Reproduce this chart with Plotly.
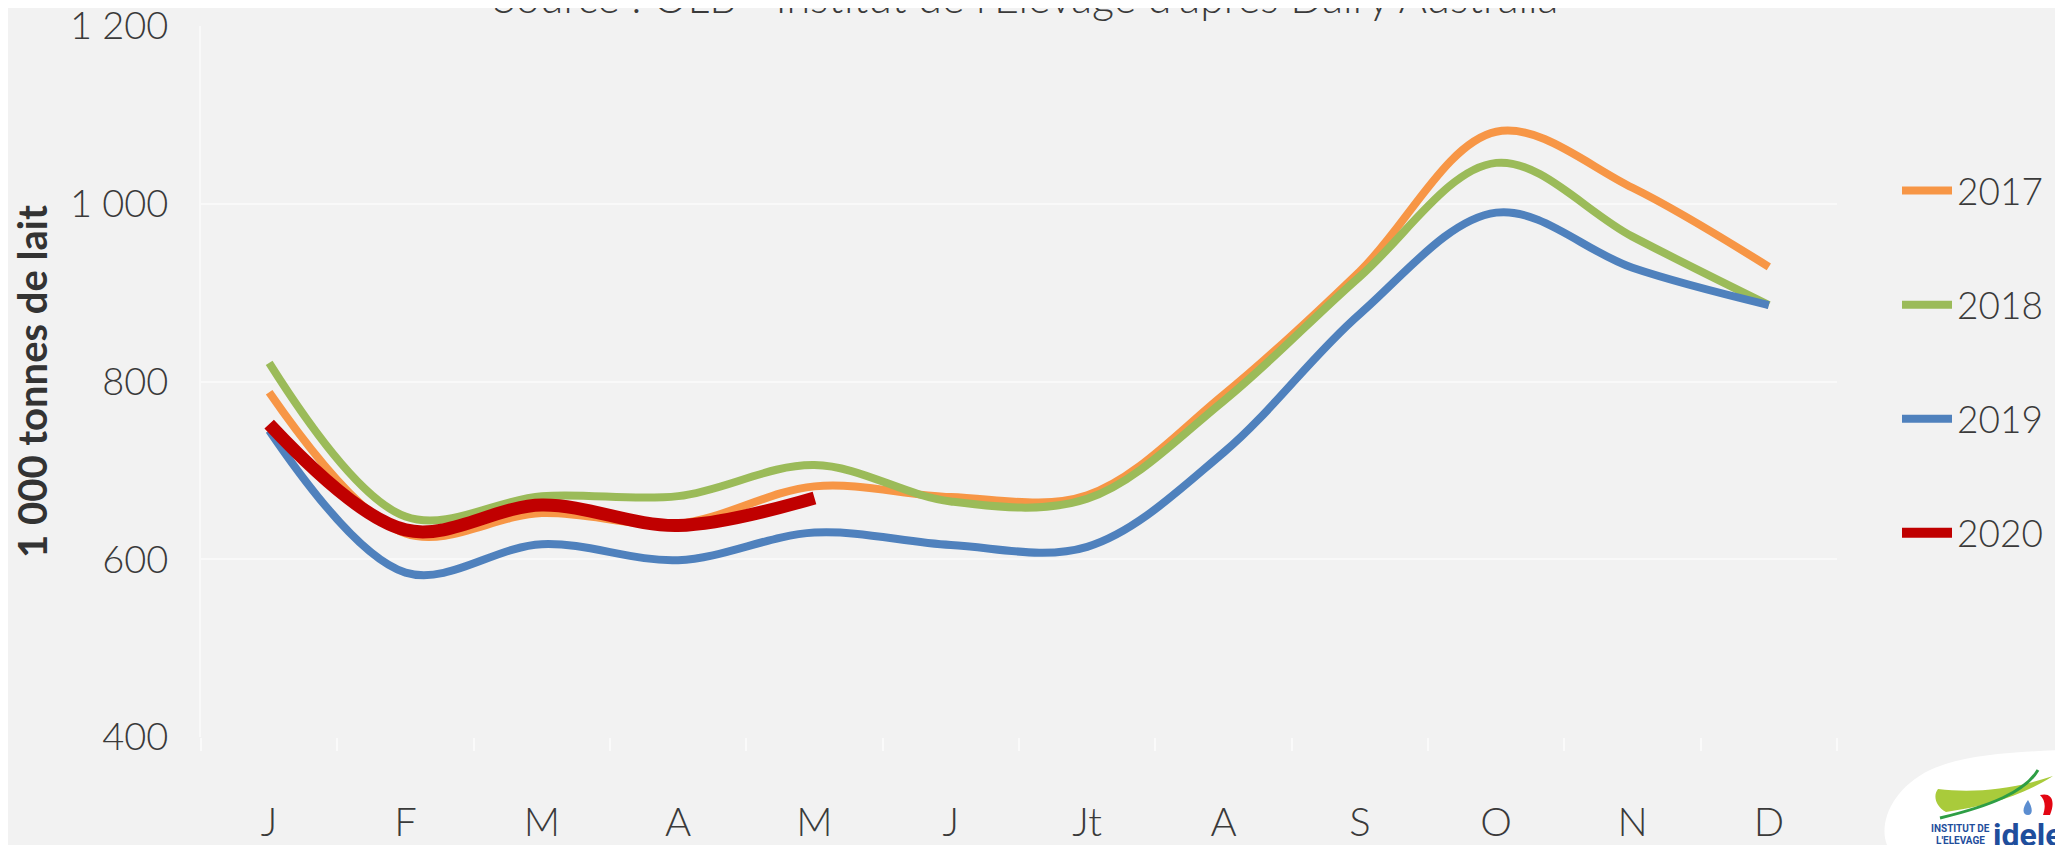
import plotly.graph_objects as go

# ---------------- data ----------------
months = ["J", "F", "M", "A", "M", "J", "Jt", "A", "S", "O", "N", "D"]
years = ["2017", "2018", "2019", "2020"]
v2017 = [788, 629, 652, 640, 682, 670, 672, 785, 924, 1081, 1018, 929]
v2018 = [821, 648, 671, 671, 706, 665, 668, 778, 918, 1046, 963, 886]
v2019 = [745, 585, 617, 599, 630, 616, 614, 720, 876, 990, 928, 886]
v2020 = [752, 633, 661, 638, 669]
yticks = [400, 600, 800, 1000, 1200]

series = [v2017, v2018, v2019, v2020]
colors = ["#F79646", "#9BBB59", "#4F81BD", "#C00000"]
widths = [8, 8, 8, 13]

# ---------------- layout geometry (screen pixels) ----------------
OFF = 8                      # default page body margin
SW, SH = 2063, 845           # screen size
W, H = SW - OFF, SH - OFF    # figure size
L, R, T, B = 201, 1837, 26, 737   # plot area in screen pixels
PW, PH = R - L, B - T


def px(xp):
    return (xp - L) / PW


def py(yp):
    return (B - yp) / PH


FONT = "Lato"
TXT = "#3A3A3A"

fig = go.Figure()
xs = list(range(len(months)))
for name, vals, col, w in zip(years, series, colors, widths):
    fig.add_trace(go.Scatter(
        x=xs[:len(vals)], y=vals, name=name, mode="lines",
        line=dict(color=col, width=w, shape="spline", smoothing=1.0),
        legendgroup=name, hoverinfo="x+y+name",
    ))


def path(cmds):
    out = []
    for c in cmds:
        if isinstance(c, str):
            out.append(c)
        else:
            out.append("{:.5f},{:.5f}".format(px(c[0]), py(c[1])))
    return " ".join(out)


shapes = [
    dict(type="path", xref="paper", yref="paper", layer="above",
         path=path(["M", (1887, 845), "C", (1878, 822), (1893, 788), (1930, 770),
                    "C", (1962, 755), (2010, 752), (2063, 750), "L", (2063, 845), "Z"]),
         fillcolor="white", line=dict(width=0)),
    dict(type="path", xref="paper", yref="paper", layer="above",
         path=path(["M", (1938, 789), "C", (1972, 793), (2012, 790), (2053, 776),
                    "C", (2020, 797), (1985, 806), (1946, 812),
                    "C", (1935, 806), (1933, 795), (1938, 789), "Z"]),
         fillcolor="#A9CB3B", line=dict(width=0)),
    dict(type="path", xref="paper", yref="paper", layer="above",
         path=path(["M", (1940, 818), "C", (1990, 806), (2025, 792), (2038, 770)]),
         line=dict(color="#2E9E45", width=3)),
    dict(type="path", xref="paper", yref="paper", layer="above",
         path=path(["M", (2040, 795), "C", (2051, 792), (2056, 800), (2050, 815),
                    "L", (2043, 815), "C", (2046, 806), (2045, 800), (2040, 795), "Z"]),
         fillcolor="#E30613", line=dict(width=0)),
    dict(type="path", xref="paper", yref="paper", layer="above",
         path=path(["M", (2028, 800), "C", (2022, 808), (2022, 815), (2028, 815),
                    "C", (2033, 815), (2033, 808), (2028, 800), "Z"]),
         fillcolor="#5B8DD0", line=dict(width=0)),
]

annotations = [
    dict(text="Source : OLB - Institut de l'Elevage d'après Dairy Australia",
         xref="paper", yref="paper", x=px(1026), y=py(24), xanchor="center", yanchor="bottom",
         showarrow=False, font=dict(family=FONT, size=43, color=TXT, weight=300)),
    dict(text="INSTITUT DE", xref="paper", yref="paper", x=px(1960), y=py(829),
         xanchor="center", yanchor="middle", showarrow=False,
         font=dict(family="Roboto", size=10, color="#1F4E9C", weight="bold")),
    dict(text="L'ELEVAGE", xref="paper", yref="paper", x=px(1960), y=py(840),
         xanchor="center", yanchor="middle", showarrow=False,
         font=dict(family="Roboto", size=10, color="#1F4E9C", weight="bold")),
    dict(text="idele", xref="paper", yref="paper", x=px(2028), y=py(835),
         xanchor="center", yanchor="middle", showarrow=False,
         font=dict(family="Roboto", size=32, color="#1F4E9C", weight="bold")),
]

fig.update_layout(
    width=W, height=H,
    margin=dict(l=L - OFF, r=SW - R, t=T - OFF, b=SH - B, autoexpand=False),
    paper_bgcolor="#F2F2F2", plot_bgcolor="#F2F2F2",
    separators=", ",
    font=dict(family=FONT, color=TXT, size=38, weight=300),
    showlegend=True,
    legend=dict(x=px(1897), y=py(160), xanchor="left", yanchor="top",
                font=dict(family=FONT, size=37, color=TXT, weight=300),
                bgcolor="rgba(0,0,0,0)", tracegroupgap=63, itemwidth=50,
                traceorder="grouped"),
    xaxis=dict(range=[-0.5, 11.5], tickmode="array", tickvals=xs, ticktext=months,
               ticks="", showgrid=False, zeroline=False, showline=False,
               tickfont=dict(family=FONT, size=40, color=TXT, weight=300),
               ticklabelstandoff=58, automargin=False,
               minor=dict(tickmode="linear", tick0=-0.5, dtick=1, ticks="outside",
                          ticklen=13, tickcolor="#FAFAFA", tickwidth=2, showgrid=False)),
    yaxis=dict(range=[400, 1200], tickmode="array", tickvals=yticks, tickformat=",d",
               showgrid=True, gridcolor="#F9F9F9", gridwidth=2, zeroline=False,
               showline=True, linecolor="#F9F9F9", linewidth=2,
               ticks="", tickfont=dict(family=FONT, size=38, color=TXT, weight=300),
               ticklabelstandoff=23, ticklabeloverflow="allow", automargin=False,
               title=dict(text="1 000 tonnes de lait", standoff=27,
                          font=dict(family=FONT, size=40, color="#333333", weight="bold"))),
    shapes=shapes,
    annotations=annotations,
)

fig.write_html("out.html")
